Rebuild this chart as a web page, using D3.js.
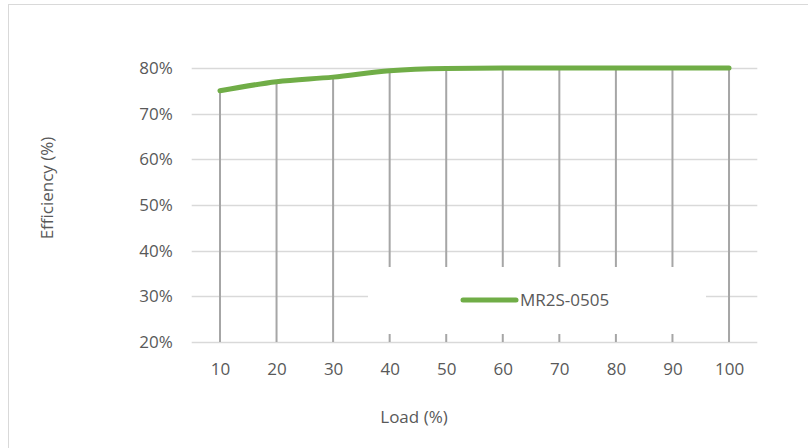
<!DOCTYPE html>
<html>
<head>
<meta charset="utf-8">
<script src="https://cdn.jsdelivr.net/npm/d3@7"></script>
<style>
  html, body { margin: 0; padding: 0; background: #fff; }
  svg { display: block; }
  text { font-family: "Open Sans", "Liberation Sans", sans-serif; fill: #595959; }
</style>
</head>
<body>
<svg id="chart" width="808" height="448"></svg>
<script>
const categories = [10, 20, 30, 40, 50, 60, 70, 80, 90, 100];
const efficiency = [75, 77, 78, 79.4, 79.9, 80, 80, 80, 80, 80];
const yTicks = [20, 30, 40, 50, 60, 70, 80];
const seriesName = "MR2S-0505";
const xTitle = "Load (%)";
const yTitle = "Efficiency (%)";

const svg = d3.select("#chart");
const plot = { left: 191.7, right: 757.3, top: 68, bottom: 342 };
const fs = 17;

// chart border
svg.append("rect").attr("x", 8.5).attr("y", 4.5).attr("width", 900).attr("height", 600)
  .attr("fill", "#fff").attr("stroke", "#D9D9D9").attr("stroke-width", 1);

const x = d3.scalePoint().domain(categories).range([plot.left, plot.right]).padding(0.5);
const y = d3.scaleLinear().domain([20, 80]).range([plot.bottom, plot.top]);

// horizontal gridlines
svg.append("g").selectAll("line").data(yTicks).join("line")
  .attr("x1", plot.left).attr("x2", plot.right)
  .attr("y1", d => Math.round(y(d)) + 0.5).attr("y2", d => Math.round(y(d)) + 0.5)
  .attr("stroke", "#D9D9D9").attr("stroke-width", 1.3);

// y axis labels
const yAxis = d3.axisLeft(y).tickValues(yTicks).tickSize(0).tickPadding(0)
  .tickFormat(d => d + "%");
const gy = svg.append("g").attr("transform", `translate(${plot.left - 19},0)`).call(yAxis);
gy.select(".domain").remove();
gy.selectAll("text").attr("font-size", fs).attr("fill", "#595959")
  .style("font-family", '"Open Sans", sans-serif');

// drop lines
const data = categories.map((c, i) => ({ c, v: efficiency[i] }));
svg.append("g").selectAll("line").data(data).join("line")
  .attr("x1", d => x(d.c)).attr("x2", d => x(d.c))
  .attr("y1", d => y(d.v)).attr("y2", y(20))
  .attr("stroke", "#A6A6A6").attr("stroke-width", 2);

// x axis labels
const xAxis = d3.axisBottom(x).tickSize(0).tickPadding(0);
const gx = svg.append("g").attr("transform", `translate(0,${plot.bottom + 21})`).call(xAxis);
gx.select(".domain").remove();
gx.selectAll("text").attr("font-size", fs).attr("fill", "#595959")
  .style("font-family", '"Open Sans", sans-serif');

// series line
const line = d3.line().x(d => x(d.c)).y(d => y(d.v)).curve(d3.curveMonotoneX);
svg.append("path").datum(data).attr("d", line)
  .attr("fill", "none").attr("stroke", "#70AD47").attr("stroke-width", 5)
  .attr("stroke-linecap", "round").attr("stroke-linejoin", "round");

// legend
const lg = svg.append("g");
lg.append("rect").attr("x", 368).attr("y", 267).attr("width", 338).attr("height", 67).attr("fill", "#fff");
lg.append("line").attr("x1", 463).attr("x2", 516).attr("y1", 300).attr("y2", 300)
  .attr("stroke", "#70AD47").attr("stroke-width", 5).attr("stroke-linecap", "round");
lg.append("text").attr("x", 520).attr("y", 306).attr("font-size", fs).text(seriesName);

// axis titles
svg.append("text").attr("x", 414).attr("y", 423).attr("text-anchor", "middle")
  .attr("font-size", fs).text(xTitle);
svg.append("text").attr("transform", "translate(53,188) rotate(-90)").attr("text-anchor", "middle")
  .attr("font-size", fs).text(yTitle);
</script>
</body>
</html>
